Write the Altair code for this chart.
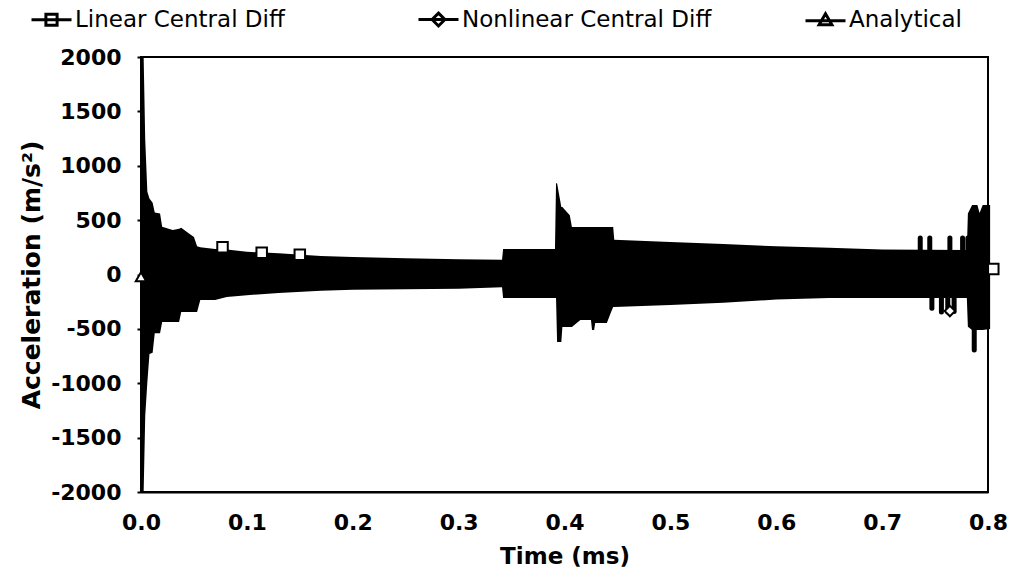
import altair as alt
import pandas as pd

# ---- data ----
# envelope of the three (heavily overlapping) oscillating series
env_t = [0.000, 0.0008, 0.0025, 0.004, 0.006, 0.008, 0.011, 0.013, 0.018, 0.020, 0.030,
         0.036, 0.038, 0.045, 0.050, 0.053, 0.056, 0.070, 0.081, 0.100, 0.130, 0.170,
         0.200, 0.250, 0.300, 0.341, 0.342, 0.391, 0.392, 0.393, 0.397, 0.398, 0.405,
         0.407, 0.415, 0.425, 0.426, 0.428, 0.429, 0.440, 0.444, 0.446, 0.447, 0.500,
         0.550, 0.600, 0.650, 0.700, 0.780, 0.781, 0.785, 0.790, 0.792, 0.795, 0.802]
env_hi = [30, 2000, 2000, 1240, 760, 700, 660, 570, 560, 440, 410,
          420, 430, 380, 345, 260, 250, 235, 230, 210, 195, 170,
          160, 150, 140, 135, 234, 234, 840, 840, 620, 620, 545,
          437, 437, 437, 437, 437, 437, 437, 437, 437, 320, 300,
          280, 260, 245, 230, 225, 560, 640, 640, 565, 640, 640]
env_lo = [-30, -2000, -2000, -1300, -990, -730, -720, -540, -540, -437, -437,
          -437, -345, -345, -345, -345, -235, -235, -207, -190, -170, -150,
          -140, -135, -130, -118, -216, -216, -216, -620, -620, -483, -483,
          -483, -419, -419, -511, -511, -446, -446, -345, -299, -299, -280,
          -260, -230, -215, -215, -215, -480, -511, -511, -511, -511, -500]

# isolated spikes near the end of the record
spike_t = [0.736, 0.745, 0.764, 0.776, 0.781, 0.747, 0.756, 0.762, 0.768, 0.787]
spike_v = [335, 335, 335, 335, 335, -310, -345, -345, -340, -695]

# visible markers
series_names = ["Linear Central Diff", "Nonlinear Central Diff", "Analytical"]
mark_series = ["Linear Central Diff", "Linear Central Diff", "Linear Central Diff",
               "Linear Central Diff", "Nonlinear Central Diff", "Analytical"]
mark_t = [0.077, 0.114, 0.150, 0.805, 0.764, 0.000]
mark_v = [250, 200, 182, 50, -336, -20]

x_ticks = [0.0, 0.1, 0.2, 0.3, 0.4, 0.5, 0.6, 0.7, 0.8]
y_ticks = [-2000, -1500, -1000, -500, 0, 500, 1000, 1500, 2000]

env = pd.DataFrame({"t": env_t, "hi": env_hi, "lo": env_lo})
spikes = pd.DataFrame({"t": spike_t, "v": spike_v, "z": [0] * len(spike_t)})
marks = pd.DataFrame({"t": mark_t, "v": mark_v, "series": mark_series})

FONT = "DejaVu Sans"
xs = alt.Scale(domain=[0, 0.8], nice=False, zero=False, padding=0)
ys = alt.Scale(domain=[-2000, 2000], nice=False, padding=0)

xaxis = alt.Axis(values=x_ticks, format=".1f", title="Time (ms)", grid=False, ticks=False,
                 labelPadding=20, titlePadding=12, labelFlush=False,
                 titleFontSize=23)
yaxis = alt.Axis(values=y_ticks, title="Acceleration (m/s²)", grid=False, tickSize=4,
                 labelPadding=16, titlePadding=6, labelFlush=False, titleFontSize=25,
                 labelExpr="datum.value < 0 ? '-' + abs(datum.value) : '' + datum.value")

X = alt.X("t:Q", scale=xs, axis=xaxis)

area = alt.Chart(env).mark_area(color="black", interpolate="linear").encode(
    x=X,
    y=alt.Y("hi:Q", scale=ys, axis=yaxis),
    y2="lo:Q",
)

rules = alt.Chart(spikes).mark_rule(color="black", strokeWidth=5, strokeCap="round").encode(
    x=X, y=alt.Y("v:Q", scale=ys, axis=yaxis), y2="z:Q"
)

legend_paths = [
    "M-1,0H1M-0.28,-0.28H0.28V0.28H-0.28Z",
    "M-1,0H1M0,-0.32L0.32,0L0,0.32L-0.32,0Z",
    "M-1,0.05H1M0,-0.3L0.32,0.25H-0.32Z",
]

legend_layer = alt.Chart(marks).mark_point(filled=False, color="black", strokeWidth=3,
                                           opacity=1).encode(
    x=X, y=alt.Y("v:Q", scale=ys, axis=yaxis),
    size=alt.value(0),
    shape=alt.Shape("series:N", scale=alt.Scale(domain=series_names, range=legend_paths),
                    legend=alt.Legend(title=None, orient="none", legendX=-111, legendY=-59,
                                      direction="horizontal", columns=3, gridAlign="all",
                                      columnPadding=87, symbolSize=1600, symbolStrokeWidth=3,
                                      symbolStrokeColor="black", symbolFillColor="transparent",
                                      symbolOpacity=1,
                                      labelFont=FONT, labelFontSize=23, labelColor="black",
                                      labelOffset=2, padding=0, labelLimit=400)),
)

visible = alt.Chart(marks).mark_point(filled=True, fill="white", stroke="black",
                                      strokeWidth=2, size=110, opacity=1).encode(
    x=X, y=alt.Y("v:Q", scale=ys, axis=yaxis),
    shape=alt.Shape("series:N", scale=alt.Scale(domain=series_names,
                                                range=["square", "diamond", "triangle-up"]),
                    legend=None),
)

chart = alt.layer(area, rules, visible, legend_layer).resolve_scale(shape="independent").properties(
    width=847, height=435,
    autosize=alt.AutoSizeParams(type="none"),
    padding={"left": 141, "top": 57, "right": 27, "bottom": 91},
    background="white",
).configure_view(stroke="black", strokeWidth=2).configure_axis(
    domainColor="black", domainWidth=2, tickColor="black", tickWidth=2,
    labelFont=FONT, labelFontSize=22, labelFontWeight="bold", labelColor="black",
    titleFont=FONT, titleFontWeight="bold", titleColor="black",
)

chart.save("out.html", embed_options={"renderer": "svg", "actions": False})
